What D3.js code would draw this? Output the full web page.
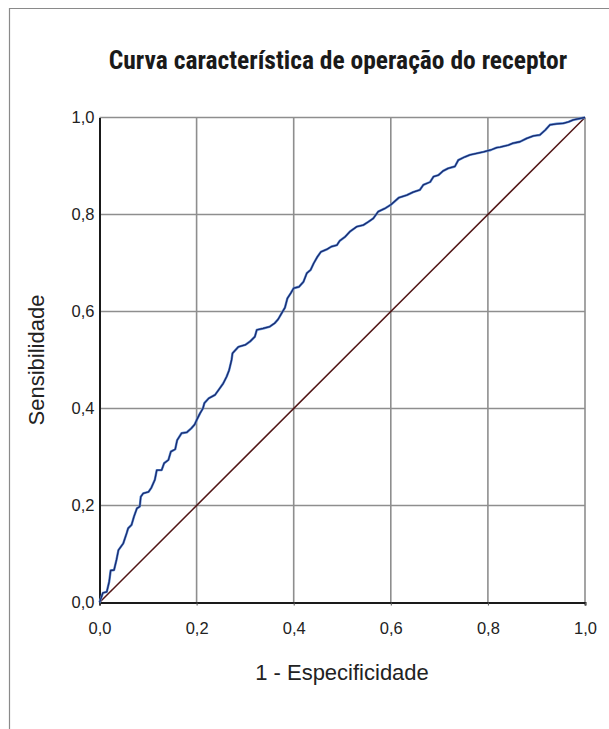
<!DOCTYPE html>
<html>
<head>
<meta charset="utf-8">
<script src="https://cdn.jsdelivr.net/npm/d3@7"></script>
<style>
  html, body { margin: 0; padding: 0; background: #fff; }
  svg { display: block; }
  .narrow { font-family: "Roboto Condensed", "Liberation Sans Narrow", "Arial Narrow", sans-serif; }
  .reg { font-family: "Liberation Sans", Arial, sans-serif; }
</style>
</head>
<body>
<svg id="chart" width="609" height="729"></svg>
<script>
// ---- data ----
const title = "Curva característica de operação do receptor";
const xLabel = "1 - Especificidade";
const yLabel = "Sensibilidade";
const tickValues = [0, 0.2, 0.4, 0.6, 0.8, 1.0];
const tickLabels = ["0,0", "0,2", "0,4", "0,6", "0,8", "1,0"];

// ROC curve: 1 - specificity (x) and sensitivity (y)
const rocX = [0, 0.007, 0.015, 0.020, 0.023, 0.030, 0.035, 0.039, 0.049, 0.056, 0.059, 0.066, 0.071, 0.077, 0.083, 0.085, 0.090, 0.101, 0.107, 0.114, 0.118, 0.128, 0.133, 0.142, 0.147, 0.156, 0.160, 0.169, 0.180, 0.189, 0.196, 0.200, 0.207, 0.213, 0.216, 0.225, 0.238, 0.248, 0.255, 0.262, 0.267, 0.272, 0.274, 0.286, 0.300, 0.310, 0.320, 0.324, 0.337, 0.351, 0.361, 0.368, 0.375, 0.382, 0.387, 0.394, 0.400, 0.411, 0.420, 0.427, 0.435, 0.441, 0.449, 0.456, 0.468, 0.478, 0.489, 0.495, 0.506, 0.516, 0.530, 0.543, 0.554, 0.564, 0.574, 0.587, 0.600, 0.617, 0.633, 0.646, 0.660, 0.667, 0.681, 0.688, 0.698, 0.708, 0.718, 0.732, 0.739, 0.753, 0.763, 0.777, 0.791, 0.806, 0.818, 0.825, 0.842, 0.852, 0.866, 0.880, 0.894, 0.907, 0.918, 0.928, 0.942, 0.955, 0.966, 0.976, 0.990, 1.0];
const rocY = [0, 0.020, 0.022, 0.043, 0.066, 0.067, 0.088, 0.108, 0.122, 0.143, 0.153, 0.160, 0.177, 0.194, 0.198, 0.218, 0.225, 0.228, 0.237, 0.253, 0.273, 0.273, 0.287, 0.294, 0.311, 0.316, 0.335, 0.349, 0.351, 0.359, 0.367, 0.376, 0.390, 0.400, 0.411, 0.421, 0.428, 0.442, 0.452, 0.466, 0.479, 0.500, 0.514, 0.527, 0.531, 0.538, 0.548, 0.562, 0.565, 0.569, 0.576, 0.584, 0.596, 0.608, 0.627, 0.638, 0.648, 0.651, 0.661, 0.679, 0.686, 0.699, 0.713, 0.723, 0.728, 0.734, 0.737, 0.746, 0.754, 0.765, 0.775, 0.778, 0.785, 0.792, 0.806, 0.812, 0.820, 0.835, 0.840, 0.846, 0.851, 0.861, 0.867, 0.878, 0.881, 0.890, 0.895, 0.899, 0.912, 0.919, 0.923, 0.926, 0.929, 0.933, 0.938, 0.939, 0.943, 0.947, 0.950, 0.957, 0.962, 0.964, 0.974, 0.985, 0.987, 0.988, 0.991, 0.995, 0.998, 1.0];
const refX = [0, 1];
const refY = [0, 1];

// ---- layout ----
const svg = d3.select("#chart");
const plot = { left: 99.5, right: 585, top: 117.5, bottom: 602.5 };

const x = d3.scaleLinear().domain([0, 1]).range([plot.left, plot.right]);
const y = d3.scaleLinear().domain([0, 1]).range([plot.bottom, plot.top]);

// outer frame (top and left edges visible)
svg.append("path")
  .attr("d", "M9.5,729 L9.5,8.5 L609,8.5")
  .attr("fill", "none").attr("stroke", "#8a8a8a").attr("stroke-width", 1.2);

// title
svg.append("text").attr("class", "narrow")
  .attr("x", 338).attr("y", 69)
  .attr("text-anchor", "middle")
  .attr("font-size", 25.5).attr("font-weight", "bold").attr("fill", "#1a1a1a")
  .text(title);

// grid lines
const grid = svg.append("g");
grid.selectAll(".gx").data(tickValues.slice(1)).join("line")
  .attr("x1", d => x(d)).attr("x2", d => x(d))
  .attr("y1", plot.top).attr("y2", plot.bottom)
  .attr("stroke", "#8e8e8e").attr("stroke-width", 1.6);
grid.selectAll(".gy").data(tickValues.slice(1)).join("line")
  .attr("y1", d => y(d)).attr("y2", d => y(d))
  .attr("x1", plot.left).attr("x2", plot.right)
  .attr("stroke", "#8e8e8e").attr("stroke-width", 1.6);

// axes
const xAxis = d3.axisBottom(x).tickValues(tickValues)
  .tickFormat((d, i) => tickLabels[i]).tickSize(3).tickPadding(17);
const yAxis = d3.axisLeft(y).tickValues(tickValues)
  .tickFormat((d, i) => tickLabels[i]).tickSize(0).tickPadding(5);

const gx = svg.append("g").attr("transform", `translate(0,${plot.bottom})`).call(xAxis);
const gy = svg.append("g").attr("transform", `translate(${plot.left},0)`).call(yAxis);
[gx, gy].forEach(g => {
  g.select(".domain").attr("stroke", "#1a1a1a").attr("stroke-width", 2);
  g.selectAll(".tick line").attr("stroke", "#555");
  g.selectAll("text").attr("class", "reg").attr("font-size", 16.5).attr("fill", "#222");
});
gy.selectAll("text").attr("dy", "0.32em");

// reference diagonal
const line = d3.line().x(d => x(d[0])).y(d => y(d[1]));
svg.append("path")
  .datum(refX.map((v, i) => [v, refY[i]]))
  .attr("d", line)
  .attr("fill", "none").attr("stroke", "#521616").attr("stroke-width", 1.5);

// ROC curve
const rocData = rocX.map((v, i) => [v, rocY[i]]);
svg.append("path").datum(rocData).attr("d", line)
  .attr("fill", "none").attr("stroke", "#5d8fd6").attr("stroke-width", 2.4)
  .attr("stroke-linejoin", "round");
svg.append("path").datum(rocData).attr("d", line)
  .attr("fill", "none").attr("stroke", "#1b2b6e").attr("stroke-width", 1.3)
  .attr("stroke-linejoin", "round");

// axis titles
svg.append("text").attr("class", "reg")
  .attr("x", 342).attr("y", 680)
  .attr("text-anchor", "middle").attr("font-size", 22).attr("fill", "#222")
  .text(xLabel);
svg.append("text").attr("class", "reg")
  .attr("transform", "translate(44,360) rotate(-90)")
  .attr("text-anchor", "middle").attr("font-size", 22).attr("fill", "#222")
  .text(yLabel);
</script>
</body>
</html>
